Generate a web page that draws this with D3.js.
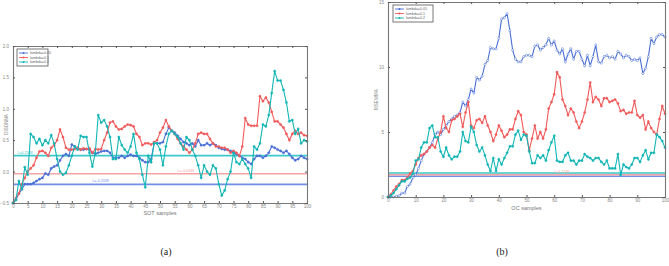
<!DOCTYPE html>
<html lang="en">
<head>
	<meta charset="UTF-8">
	<title>chart</title>
	<style>
		body { margin: 0; background: #fff; }
		svg { display: block; }
	</style>
</head>
<body>
	<script src="https://cdn.jsdelivr.net/npm/d3@7/dist/d3.min.js"></script>

	<script type="text/javascript">

		var seriesNames = ["lambda=0.05", "lambda=0.1", "lambda=0.2"];

		// panel (a)
		var blueA = [-0.5,-0.45,-0.35,-0.28,-0.2,-0.2,-0.2,-0.18,-0.15,-0.12,-0.1,-0.03,-0.05,0.05,0.08,0.1,0.18,0.25,0.28,0.25,
			0.43,0.4,0.37,0.35,0.35,0.36,0.35,0.3,0.28,0.3,0.32,0.33,0.33,0.3,0.22,0.22,0.22,0.25,0.22,0.25,
			0.27,0.25,0.25,0.22,0.18,0.15,0.15,0.2,0.45,0.45,0.45,0.47,0.6,0.7,0.65,0.62,0.57,0.52,0.47,0.45,
			0.42,0.45,0.4,0.5,0.42,0.42,0.45,0.42,0.45,0.42,0.38,0.36,0.35,0.35,0.33,0.3,0.28,0.25,0.22,0.2,
			0.15,0.12,0.2,0.25,0.25,0.22,0.25,0.3,0.4,0.38,0.35,0.33,0.3,0.33,0.28,0.22,0.18,0.2,0.25,0.22,0.2];
		var redA = [-0.5,-0.42,-0.35,-0.2,-0.1,0.0,0.05,0.1,0.22,0.32,0.33,0.3,0.25,0.38,0.42,0.5,0.67,0.55,0.38,0.35,
			0.35,0.36,0.38,0.35,0.37,0.36,0.37,0.3,0.36,0.35,0.36,0.5,0.62,0.78,0.8,0.72,0.67,0.68,0.72,0.75,
			0.74,0.72,0.6,0.55,0.42,0.45,0.45,0.43,0.47,0.5,0.62,0.7,0.82,0.72,0.65,0.6,0.52,0.45,0.4,0.35,
			0.3,0.35,0.45,0.6,0.62,0.6,0.6,0.52,0.45,0.4,0.4,0.38,0.38,0.35,0.3,0.33,0.3,0.25,0.4,0.85,
			0.75,0.73,0.73,0.73,1.2,1.12,1.18,1.1,0.95,0.8,0.8,0.75,0.7,0.6,0.5,0.6,0.65,0.6,0.62,0.58,0.57];
		var cyanA = [-0.5,-0.45,-0.15,-0.28,0.07,-0.05,0.6,0.55,0.45,0.52,0.42,0.5,0.45,0.58,0.45,0.2,0.0,-0.05,-0.02,0.1,
			0.25,0.4,0.35,0.57,0.55,0.55,0.3,0.08,0.3,0.9,0.78,0.82,0.72,0.55,0.2,0.2,0.55,0.42,0.35,0.3,
			0.4,0.6,0.3,0.2,-0.05,-0.25,0.25,0.15,0.45,0.45,0.35,0.1,0.4,0.6,0.65,0.6,0.55,0.45,0.35,0.55,
			0.5,0.35,0.25,0.1,-0.1,0.1,0.0,-0.05,0.1,0.05,-0.2,-0.38,-0.3,-0.12,0.0,0.3,0.15,0.12,0.2,0.12,
			0.05,-0.1,0.4,0.35,0.45,0.75,0.72,0.9,1.25,1.6,1.45,1.45,1.3,1.1,0.8,0.82,0.6,0.68,0.45,0.5,0.48];
		var limitsA = [-0.2038, -0.0338, 0.2548];
		var yTicksA = [-0.5, 0, 0.5, 1, 1.5, 2];

		// panel (b)
		var blueB = [0,0,0,0.05,0.1,0.3,0.3,0.8,1.0,1.5,1.7,2.2,2.8,3.3,3.5,3.8,4.2,4.8,5.0,4.8,
			5.2,5.5,5.8,6.0,6.2,6.3,6.5,7.3,7.0,7.5,8.3,8.0,9.2,9.0,9.3,10.2,10.5,11.5,11.4,11.4,
			12.2,13.7,13.8,14.1,12.8,11.3,10.6,10.4,10.4,10.8,10.9,10.9,10.8,11.6,11.7,11.3,11.5,11.7,12.2,11.7,
			12.0,11.3,11.0,11.4,10.4,11.0,11.4,10.6,11.2,11.2,10.6,10.1,10.9,10.1,10.8,11.7,10.4,10.3,10.8,10.9,
			10.7,10.8,10.6,11.2,11.0,10.7,10.9,10.8,10.5,10.6,10.5,10.7,9.5,9.9,10.8,12.2,11.8,12.3,12.5,12.5,12.3];
		var redB = [0,0.2,0.5,0.8,1.0,1.3,1.3,1.5,1.8,2.0,2.5,3.0,3.2,3.3,3.5,3.8,4.0,3.8,4.5,5.0,
			6.2,5.3,5.0,5.9,6.0,6.2,6.4,5.4,6.5,7.3,5.5,5.3,5.9,6.0,5.7,6.2,5.5,5.0,4.3,4.8,
			5.5,5.1,4.6,4.8,5.2,5.2,6.0,6.6,6.3,5.0,4.8,3.6,4.5,5.5,4.5,5.0,4.5,5.2,6.8,7.3,
			7.9,9.6,9.2,7.5,7.0,6.3,6.8,6.5,5.8,5.3,5.8,6.5,7.5,8.8,7.3,7.7,7.5,7.0,7.6,7.6,
			7.3,7.4,7.5,7.2,6.6,6.7,6.4,6.5,6.5,7.4,6.3,6.1,6.3,5.2,5.8,5.3,5.0,4.8,6.0,7.0,6.4];
		var cyanB = [0,0.1,0.3,0.6,0.9,1.2,1.2,1.4,1.5,1.8,2.8,2.9,3.8,4.2,4.2,5.3,5.5,4.6,4.6,3.5,
			3.1,3.8,3.2,2.9,3.1,3.1,3.5,5.0,4.3,4.2,5.4,5.0,4.0,3.5,3.8,3.2,2.5,2.0,3.0,2.0,
			2.9,2.5,3.0,3.4,3.9,3.9,4.8,5.1,4.4,4.8,4.7,3.5,2.6,2.6,3.2,3.0,3.2,2.8,3.6,4.2,
			4.7,2.8,2.7,2.7,3.2,3.4,2.8,2.8,2.5,2.8,2.8,3.3,3.1,3.0,2.8,3.0,3.0,2.7,2.5,2.8,
			2.2,2.2,2.2,3.3,1.7,2.5,2.3,2.2,2.5,3.0,3.0,2.7,3.2,3.6,2.9,3.4,3.4,4.8,4.6,4.3,3.8];
		var limitsB = [1.6, 1.7238, 1.85];
		var yTicksB = [0, 5, 10, 15];

		var colors = ["#4a6fd4", "#f05a5a", "#14b5b5"];
		var limitColors = ["#6f8fe6", "#f5a3a3", "#3cc9c9"];

		var width = 669, height = 266;
		var svg = d3.select("body").append("svg")
			.attr("width", width)
			.attr("height", height)
			.style("font-family", "Liberation Sans, Arial, sans-serif");

		function panel(opt) {
			var x = d3.scaleLinear().domain([0, 100]).range([opt.left, opt.right]);
			var y = d3.scaleLinear().domain(opt.yDomain).range([opt.bottom, opt.top]);
			var g = svg.append("g");

			// limit lines
			opt.limits.forEach(function(v, k) {
				g.append("line")
					.attr("x1", x(0)).attr("x2", x(100))
					.attr("y1", y(v)).attr("y2", y(v))
					.attr("stroke", limitColors[k])
					.attr("stroke-width", 1.6);
			});
			opt.limitLabels.forEach(function(l) {
				g.append("text")
					.attr("x", x(l.x)).attr("y", y(l.v) - 2)
					.attr("font-size", 3.6)
					.attr("fill", limitColors[l.k])
					.text(l.text);
			});

			// series
			var line = d3.line()
				.x(function(d, i) { return x(i); })
				.y(function(d) { return y(d); });
			opt.series.forEach(function(s, k) {
				g.append("path")
					.datum(s)
					.attr("fill", "none")
					.attr("stroke", colors[k])
					.attr("stroke-width", 1.1)
					.attr("d", line);
				g.selectAll(null)
					.data(s)
					.enter().append("circle")
					.attr("cx", function(d, i) { return x(i); })
					.attr("cy", function(d) { return y(d); })
					.attr("r", 1.1)
					.attr("fill", k == 0 && opt.hollowBlue ? "#fff" : colors[k])
					.attr("stroke", colors[k])
					.attr("stroke-width", 0.5);
			});

			// axes, MATLAB style box
			var xb = g.append("g")
				.attr("transform", "translate(0," + opt.bottom + ")")
				.call(d3.axisBottom(x).tickValues(opt.xTicks).tickSize(-2).tickPadding(2));
			var xt = g.append("g")
				.attr("transform", "translate(0," + opt.top + ")")
				.call(d3.axisTop(x).tickValues(opt.xTicks).tickSize(-2).tickFormat(""));
			var yl = g.append("g")
				.attr("transform", "translate(" + opt.left + ",0)")
				.call(d3.axisLeft(y).tickValues(opt.yTicks).tickSize(-2).tickPadding(4));
			var yr = g.append("g")
				.attr("transform", "translate(" + opt.right + ",0)")
				.call(d3.axisRight(y).tickValues(opt.yTicks).tickSize(-2).tickFormat(""));
			[xb, xt, yl, yr].forEach(function(a) {
				a.select(".domain").attr("stroke", "#777").attr("stroke-width", 1.1);
				a.selectAll(".tick line").attr("stroke", "#555");
				a.selectAll("text").attr("font-size", 4.5).attr("fill", "#888");
			});

			g.append("text")
				.attr("x", (opt.left + opt.right) / 2)
				.attr("y", opt.bottom + opt.xLabelDy)
				.attr("text-anchor", "middle")
				.attr("font-size", 5.5)
				.attr("fill", "#777")
				.text(opt.xLabel);
			g.append("text")
				.attr("transform", "translate(" + opt.yLabelX + "," + ((opt.top + opt.bottom) / 2) + ") rotate(-90)")
				.attr("text-anchor", "middle")
				.attr("font-size", 4.5)
				.attr("fill", "#888")
				.text(opt.yLabel);

			// legend
			var lg = g.append("g").attr("transform", "translate(" + opt.legend[0] + "," + opt.legend[1] + ")");
			lg.append("rect")
				.attr("width", opt.legend[2]).attr("height", 17)
				.attr("fill", "#fff")
				.attr("stroke", "#555")
				.attr("stroke-width", 0.8);
			seriesNames.forEach(function(n, k) {
				var yy = 4 + k * 4.5;
				lg.append("line")
					.attr("x1", 2).attr("x2", 11)
					.attr("y1", yy).attr("y2", yy)
					.attr("stroke", colors[k]).attr("stroke-width", 0.9);
				lg.append("circle")
					.attr("cx", 6.5).attr("cy", yy).attr("r", 1)
					.attr("fill", colors[k]);
				lg.append("text")
					.attr("x", 13).attr("y", yy + 1.2)
					.attr("font-size", 3.6)
					.attr("fill", "#666")
					.text(n);
			});

			svg.append("text")
				.attr("x", opt.caption[0]).attr("y", opt.caption[1])
				.attr("text-anchor", "middle")
				.attr("font-family", "Liberation Serif, Times New Roman, serif")
				.attr("font-size", 10)
				.attr("fill", "#222")
				.text(opt.captionText);
		}

		panel({
			left: 13, right: 307, top: 46, bottom: 203,
			yDomain: [-0.5, 2],
			yTicks: yTicksA,
			xTicks: d3.range(0, 101, 5),
			series: [blueA, redA, cyanA],
			limits: limitsA,
			limitLabels: [
				{ k: 2, x: 1.5, v: 0.2548, text: "L=0.2548" },
				{ k: 1, x: 56, v: -0.0338, text: "L=-0.0338" },
				{ k: 0, x: 27, v: -0.2038, text: "L=-0.2038" }
			],
			xLabel: "SOT samples",
			xLabelDy: 12,
			yLabel: "DISDNNA",
			yLabelX: 8,
			legend: [17, 49, 31],
			caption: [166, 255],
			captionText: "(a)"
		});

		panel({
			left: 388, right: 665, top: 2, bottom: 197,
			yDomain: [0, 15],
			yTicks: yTicksB,
			xTicks: d3.range(0, 101, 10),
			series: [blueB, redB, cyanB],
			limits: limitsB,
			limitLabels: [
				{ k: 1, x: 60, v: 1.7238, text: "L=1.7238" }
			],
			xLabel: "OC samples",
			xLabelDy: 13,
			yLabel: "MSEWMA",
			yLabelX: 378,
			legend: [393, 5, 40],
			hollowBlue: true,
			caption: [502, 255],
			captionText: "(b)"
		});

	</script>
</body>
</html>
